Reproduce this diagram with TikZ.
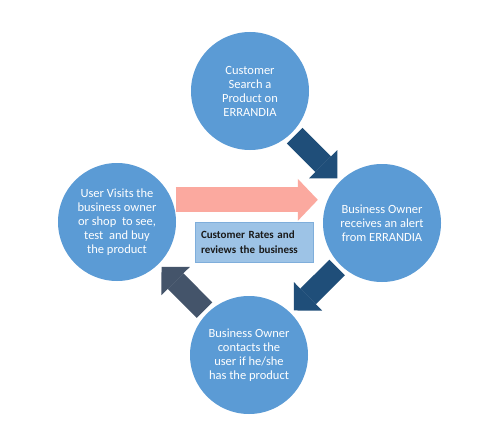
\documentclass[tikz,border=0pt]{standalone}
\usepackage{fontspec}
\setmainfont{Carlito}
\usetikzlibrary{arrows.meta,calc}
\definecolor{circblue}{HTML}{5B9BD5}
\definecolor{darkarrow}{HTML}{1F4E79}
\definecolor{slatearrow}{HTML}{44546A}
\definecolor{pinkarrow}{HTML}{FBA99F}
\definecolor{boxfill}{HTML}{9DC3E6}
\definecolor{boxline}{HTML}{7FAEDB}
\begin{document}
\begin{tikzpicture}[x=1pt,y=-1pt,
  stage/.style={circle, fill=circblue, minimum size=118pt, inner sep=0pt,
    text=white, align=center, font=\fontsize{12.5}{14}\selectfont},
  bigarrow/.style={line width=22pt, line cap=butt,
    -{Triangle[length=20pt 0 0, width=40pt 0 0, line width=0pt]},
    shorten <=4pt, shorten >=4pt},
  pinkbar/.style={draw=pinkarrow, line width=25pt, line cap=butt,
    -{Triangle[length=20pt 0 0, width=42pt 0 0, line width=0pt]},
    shorten <=4pt, shorten >=5pt},
  reviewbox/.style={rectangle, fill=boxfill, draw=boxline, line width=0.8pt,
    minimum width=118pt, minimum height=40pt, inner sep=6pt, text width=106pt,
    align=left, font=\fontsize{11}{15.5}\selectfont\bfseries, text=black!90}]
\useasboundingbox (0,0) rectangle (497,425);
\fill[white] (0,0) rectangle (497,425);
\node[stage] (top) at (250,91) {Customer\\Search a\\Product on\\ERRANDIA};
\node[stage] (left) at (117,222) {User Visits the\\business owner\\or shop~ to see,\\test~ and buy\\the product};
\node[stage] (right) at (382,223) {Business Owner\\receives an alert\\from ERRANDIA};
\node[stage] (bottom) at (249,355) {Business Owner\\contacts the\\user if he/she\\has the product};
\node[reviewbox] (rev) at (254,242) {Customer Rates and\\reviews the business};
\draw[bigarrow, draw=darkarrow] (top) -- (right);
\draw[bigarrow, draw=darkarrow] (right) -- (bottom);
\draw[bigarrow, draw=slatearrow] (bottom) -- (left);
\draw[pinkbar] (left.22) -- (left.22 -| right.west);
\end{tikzpicture}
\end{document}
